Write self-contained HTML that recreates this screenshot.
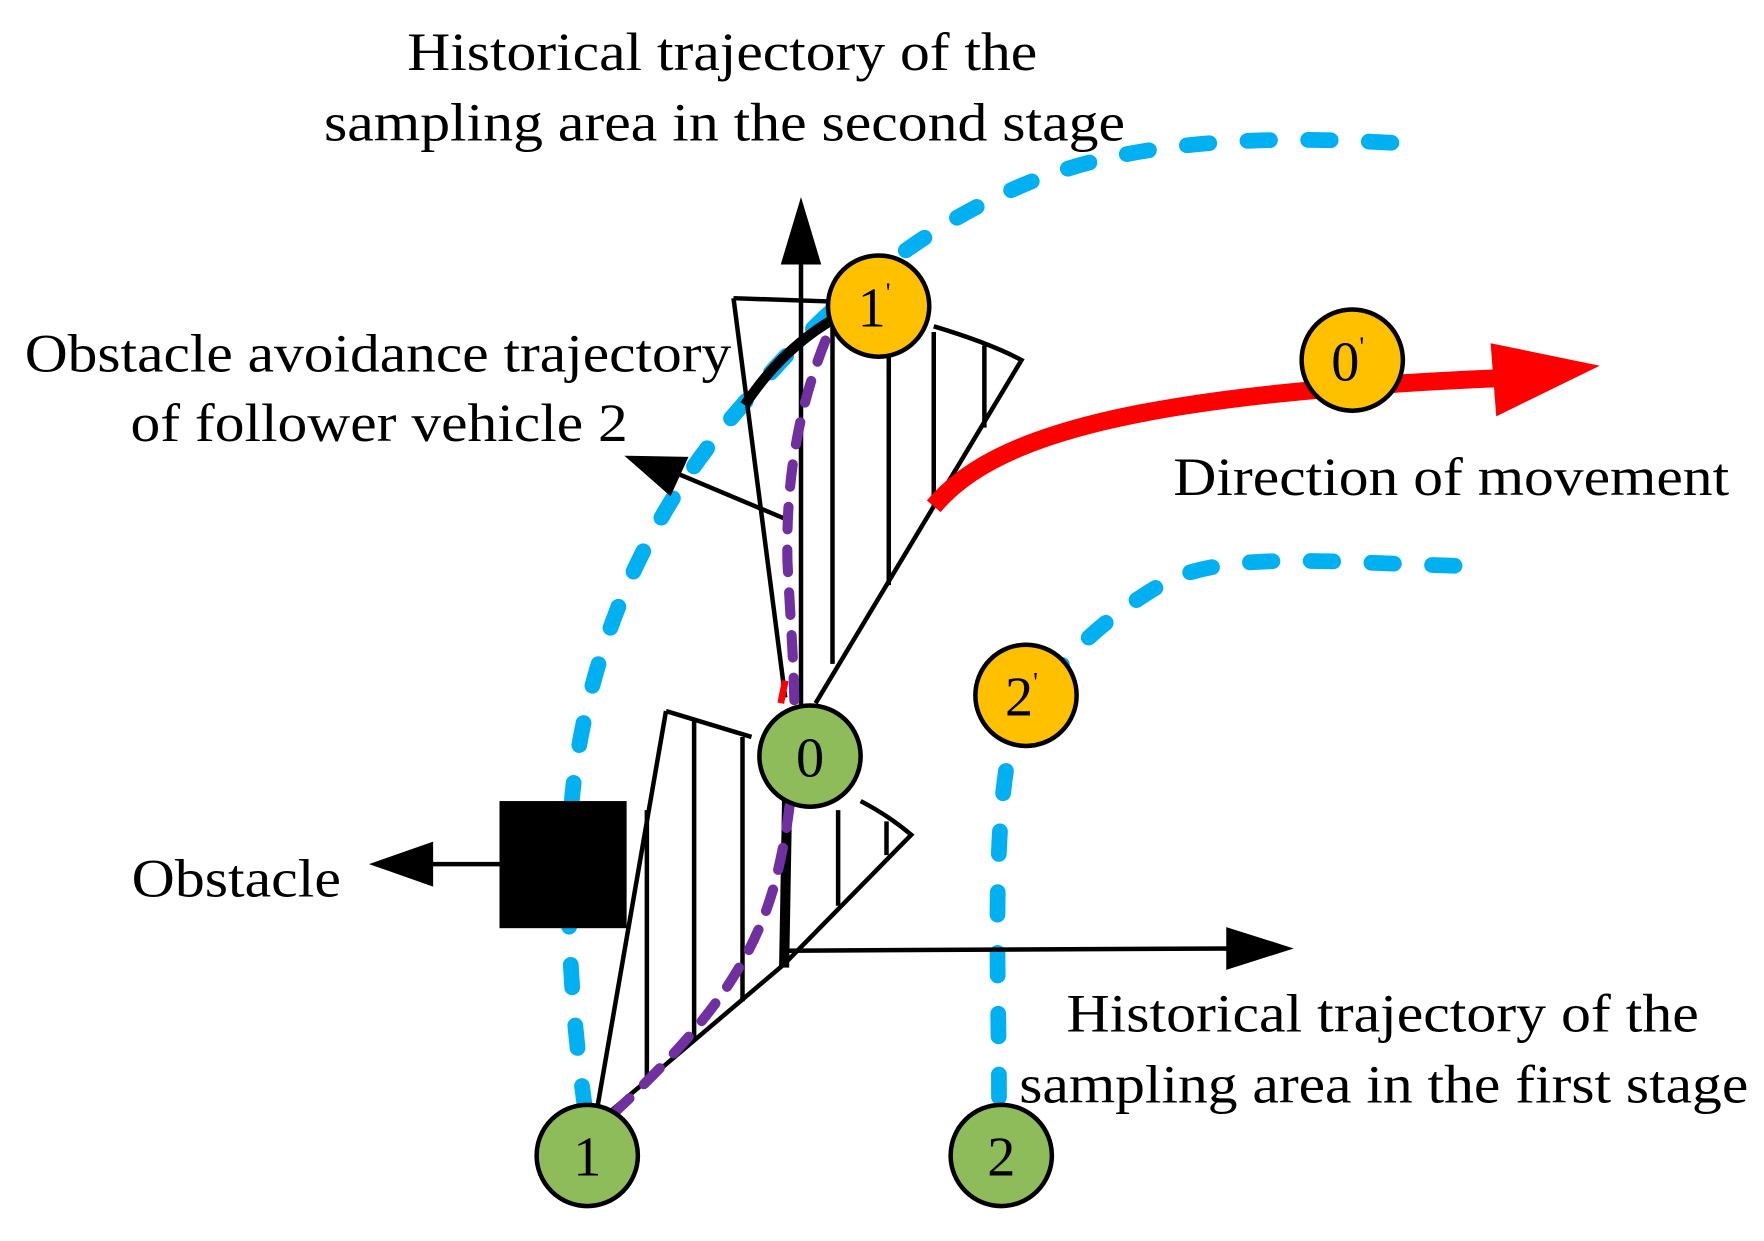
<!DOCTYPE html>
<html><head><meta charset="utf-8"><style>html,body{margin:0;padding:0;background:#fff}svg{display:block}</style></head>
<body>
<svg width="1764" height="1241" viewBox="0 0 1568 1103" xmlns="http://www.w3.org/2000/svg" font-family="Liberation Serif, serif" font-size="48">
<rect width="1568" height="1103" fill="#fff"/>
<path d="M520,985 C505,880 500,760 512,680 C530,560 580,450 660,360 C740,265 820,200 920,160 C1010,125 1120,120 1240,127" fill="none" stroke="#00b0f0" stroke-width="14" stroke-linecap="round" stroke-dasharray="20 34"/>
<path d="M888,975 C888,880 882,760 895,680 C910,620 960,560 1040,515 C1100,490 1180,500 1300,503" fill="none" stroke="#00b0f0" stroke-width="14" stroke-linecap="round" stroke-dasharray="20 34"/>
<g fill="none" stroke="#000" stroke-width="4">
<path d="M652,265 L740,268 M830,290 Q880,305 908,320 L830,450 L725,625 M652,265 L698,620"/>
<path d="M740,268 V590 M790,300 V520 M830,295 V450 M875,307 V380"/>
<path d="M592,632 L668,655 M765,712 Q790,725 810,742 L697,857 L540,990 M592,632 L530,990"/>
<path d="M575,720 V960 M617,640 V925 M660,655 V890 M745,720 V805 M788,730 V760"/>
</g>
<path d="M830,450 C880,390 1000,350 1335,336" fill="none" stroke="#ff0000" stroke-width="16"/>
<polygon points="1422,325 1325,305 1330,370" fill="#ff0000"/>
<path d="M694,625 L698,605" stroke="#ff0000" stroke-width="6"/>
<path d="M697,860 L700,690" stroke="#000" stroke-width="9"/>
<path d="M712,230 V660" stroke="#000" stroke-width="4"/>
<polygon points="712,175 694,235 730,235" fill="#000"/>
<path d="M697,845 L1095,843" stroke="#000" stroke-width="4"/>
<polygon points="1150,843 1090,824 1090,862" fill="#000"/>
<rect x="444" y="712" width="113" height="113" fill="#000"/>
<path d="M444,768 H380" stroke="#000" stroke-width="4"/>
<polygon points="328,768 385,748 385,788" fill="#000"/>
<path d="M662,360 Q695,310 742,283" fill="none" stroke="#000" stroke-width="9"/>
<path d="M700,462 L600,420" stroke="#000" stroke-width="4"/>
<polygon points="555,405 612,406 596,441" fill="#000"/>
<path d="M545,990 C620,920 670,860 690,780 C715,680 705,600 700,500 C698,420 712,350 742,283" fill="none" stroke="#7030a0" stroke-width="9" stroke-linecap="round" stroke-dasharray="20 18"/>
<g stroke="#000" stroke-width="4">
<circle cx="522" cy="1027" r="45" fill="#8fbc5a"/>
<circle cx="890" cy="1027" r="45" fill="#8fbc5a"/>
<circle cx="720" cy="672" r="45" fill="#8fbc5a"/>
<circle cx="781" cy="272" r="45" fill="#ffc000"/>
<circle cx="912" cy="618" r="45" fill="#ffc000"/>
<circle cx="1202" cy="320" r="45" fill="#ffc000"/>
</g>
<g text-anchor="middle" font-size="50">
<text x="522" y="1045">1</text>
<text x="890" y="1045">2</text>
<text x="720" y="690">0</text>
<text x="777" y="290">1<tspan font-size="24" dy="-22">'</tspan></text>
<text x="908" y="636">2<tspan font-size="24" dy="-22">'</tspan></text>
<text x="1198" y="338">0<tspan font-size="24" dy="-22">'</tspan></text>
</g>
<text x="362" y="62" textLength="560" lengthAdjust="spacingAndGlyphs">Historical trajectory of the</text>
<text x="288" y="125" textLength="712" lengthAdjust="spacingAndGlyphs">sampling area in the second stage</text>
<text x="22" y="330" textLength="628" lengthAdjust="spacingAndGlyphs">Obstacle avoidance trajectory</text>
<text x="116" y="392" textLength="442" lengthAdjust="spacingAndGlyphs">of follower vehicle 2</text>
<text x="1043" y="440" textLength="494" lengthAdjust="spacingAndGlyphs">Direction of movement</text>
<text x="117" y="797" textLength="186" lengthAdjust="spacingAndGlyphs">Obstacle</text>
<text x="948" y="917" textLength="562" lengthAdjust="spacingAndGlyphs">Historical trajectory of the</text>
<text x="906" y="980" textLength="648" lengthAdjust="spacingAndGlyphs">sampling area in the first stage</text>
</svg>
</body></html>
